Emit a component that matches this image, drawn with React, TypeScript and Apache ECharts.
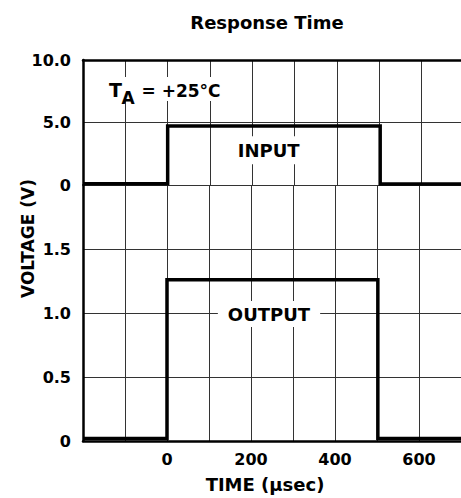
import React, { useEffect, useRef } from "react";
import * as echarts from "echarts";

// Time axis (µsec)
const timeMin = -200;
const timeMax = 700;
const timeStep = 100;

// Input waveform (upper panel, V)
const inputTime = [-200, 0, 0, 502, 502, 700];
const inputVolt = [0.1, 0.1, 4.72, 4.72, 0.08, 0.08];

// Output waveform (lower panel, V)
const outputTime = [-200, 0, 0, 502, 502, 700];
const outputVolt = [0.02, 0.02, 1.26, 1.26, 0.02, 0.02];

// Y-axis scales
const upperMax = 10;
const upperStep = 5;
const lowerMax = 2;
const lowerStep = 0.5;

const FONT = "DejaVu Sans";

export default function App() {
  const ref = useRef<HTMLDivElement>(null);

  useEffect(() => {
    if (!ref.current) return;
    const chart = echarts.init(ref.current, null, { renderer: "svg" });

    const gridLine = { show: true, lineStyle: { color: "#333", width: 1 } };
    const axisLine = { show: true, onZero: false, lineStyle: { color: "#000", width: 2.5 } };
    const tickLabel = { color: "#000", fontFamily: FONT, fontWeight: "bold" as const, fontSize: 16 };

    const option: any = {
      animation: false,
      backgroundColor: "#fff",
      grid: [
        { left: 83, top: 60, right: 0, height: 125 },
        { left: 83, top: 185, right: 0, height: 256 },
      ],
      xAxis: [
        {
          gridIndex: 0,
          type: "value",
          position: "top",
          min: timeMin,
          max: timeMax,
          interval: timeStep,
          axisLine,
          axisTick: { show: false },
          axisLabel: { show: false },
          splitLine: gridLine,
        },
        {
          gridIndex: 1,
          type: "value",
          position: "bottom",
          min: timeMin,
          max: timeMax,
          interval: timeStep,
          axisLine,
          axisTick: { show: false },
          axisLabel: {
            ...tickLabel,
            margin: 10,
            formatter: (v: number) => (v >= 0 && v % 200 === 0 && v < timeMax ? String(v) : ""),
          },
          splitLine: gridLine,
        },
      ],
      yAxis: [
        {
          gridIndex: 0,
          type: "value",
          min: 0,
          max: upperMax,
          interval: upperStep,
          axisLine,
          axisTick: { show: false },
          axisLabel: {
            ...tickLabel,
            margin: 12,
            formatter: (v: number) => (v === 0 ? "0" : v.toFixed(1)),
          },
          splitLine: gridLine,
        },
        {
          gridIndex: 1,
          type: "value",
          min: 0,
          max: lowerMax,
          interval: lowerStep,
          axisLine,
          axisTick: { show: false },
          axisLabel: {
            ...tickLabel,
            margin: 12,
            formatter: (v: number) => (v === 0 ? "0" : v >= lowerMax ? "" : v.toFixed(1)),
          },
          splitLine: gridLine,
        },
      ],
      series: [
        {
          type: "line",
          xAxisIndex: 0,
          yAxisIndex: 0,
          data: inputTime.map((t, i) => [t, inputVolt[i]]),
          showSymbol: false,
          clip: false,
          lineStyle: { color: "#000", width: 3.5, join: "miter", cap: "butt" },
          z: 5,
        },
        {
          type: "line",
          xAxisIndex: 1,
          yAxisIndex: 1,
          data: outputTime.map((t, i) => [t, outputVolt[i]]),
          showSymbol: false,
          clip: false,
          lineStyle: { color: "#000", width: 3.5, join: "miter", cap: "butt" },
          z: 5,
        },
      ],
      graphic: [
        {
          type: "text",
          z: 100,
          style: {
            text: "Response Time",
            x: 267,
            y: 22.5,
            fill: "#000",
            font: `bold 18px "${FONT}"`,
            align: "center",
            verticalAlign: "middle",
          },
        },
        {
          type: "rect",
          z: 99,
          shape: { x: 102, y: 77, width: 124, height: 24 },
          style: { fill: "#fff" },
        },
        {
          type: "text",
          z: 100,
          style: {
            text: "T",
            x: 109,
            y: 90,
            fill: "#000",
            font: `bold 19px "${FONT}"`,
            align: "left",
            verticalAlign: "middle",
          },
        },
        {
          type: "text",
          z: 100,
          style: {
            text: "A",
            x: 121.5,
            y: 97.5,
            fill: "#000",
            font: `bold 17px "${FONT}"`,
            align: "left",
            verticalAlign: "middle",
          },
        },
        {
          type: "text",
          z: 100,
          style: {
            text: "= +25°C",
            x: 141.5,
            y: 90.5,
            fill: "#000",
            font: `bold 17px "${FONT}"`,
            align: "left",
            verticalAlign: "middle",
          },
        },
        {
          type: "text",
          z: 100,
          style: {
            text: "INPUT",
            x: 268.7,
            y: 150.3,
            fill: "#000",
            font: `bold 18px "${FONT}"`,
            align: "center",
            verticalAlign: "middle",
            backgroundColor: "#fff",
            padding: [5, 7],
          },
        },
        {
          type: "text",
          z: 100,
          style: {
            text: "OUTPUT",
            x: 269,
            y: 314,
            fill: "#000",
            font: `bold 18px "${FONT}"`,
            align: "center",
            verticalAlign: "middle",
            backgroundColor: "#fff",
            padding: [4, 10],
          },
        },
        {
          type: "text",
          z: 100,
          style: {
            text: "TIME (μsec)",
            x: 265,
            y: 484,
            fill: "#000",
            font: `bold 18px "${FONT}"`,
            align: "center",
            verticalAlign: "middle",
          },
        },
        {
          type: "text",
          z: 100,
          x: 27.5,
          y: 238.5,
          rotation: Math.PI / 2,
          style: {
            text: "VOLTAGE (V)",
            x: 0,
            y: 0,
            fill: "#000",
            font: `bold 17px "${FONT}"`,
            align: "center",
            verticalAlign: "middle",
          },
        },
      ],
    };

    chart.setOption(option);
    return () => chart.dispose();
  }, []);

  return (
    <div
      ref={ref}
      style={{ position: "fixed", left: 0, top: 0, width: 464, height: 498, background: "#fff" }}
    />
  );
}
